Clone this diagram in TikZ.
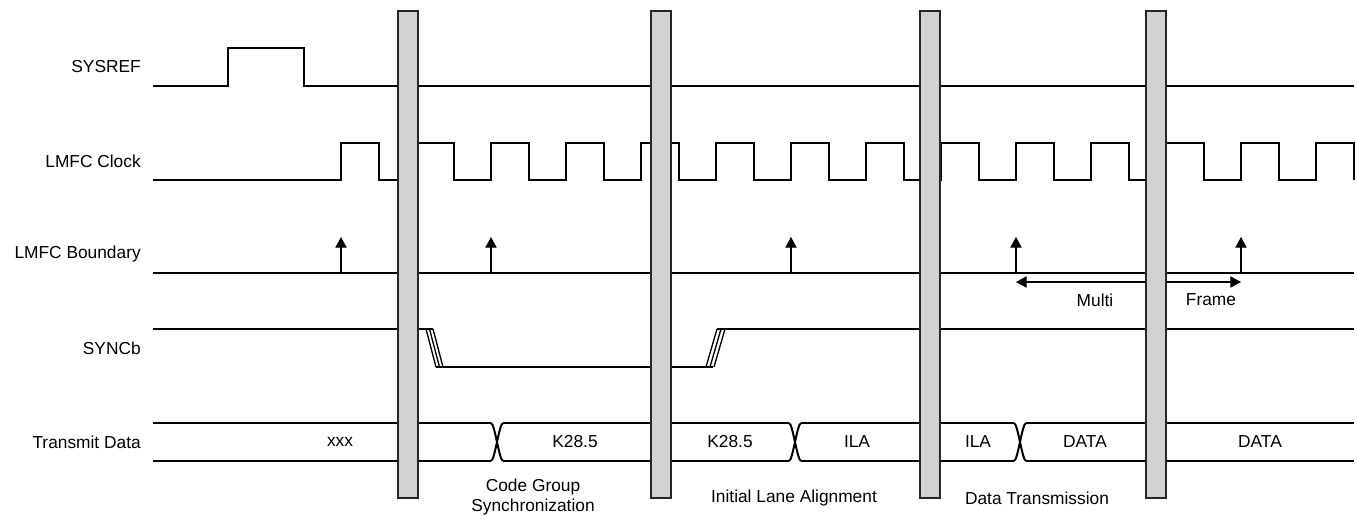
\documentclass[tikz,border=0pt]{standalone}
\usepackage{fontspec}
\setmainfont{Liberation Sans}
\usetikzlibrary{arrows.meta}

\begin{document}
\begin{tikzpicture}[
    x=0.75pt, y=-0.75pt,
    every node/.style={font=\fontsize{13}{14.5}\selectfont, inner sep=0pt},
    sig/.style={line width=1.5pt},
    slant/.style={line width=1pt},
    mark up/.style={line width=0.8pt, -{Triangle[width=8.5pt,length=8pt]}},
    span/.style={line width=0.8pt, {Triangle[width=8.5pt,length=8pt]}-{Triangle[width=8.5pt,length=8pt]}},
    bar/.style={fill=black!18, draw=black!85, line width=0.8pt}
]

\useasboundingbox (0,0) rectangle (1357,516);

% =========================================================
% Row labels
% =========================================================

\node[anchor=east] (lblSysref) at (141,67)  {SYSREF};
\node[anchor=east] (lblClock)  at (141,161) {LMFC Clock};
\node[anchor=east] (lblBound)  at (141,254) {LMFC Boundary};
\node[anchor=east] (lblSync)   at (141,348) {SYNCb};
\node[anchor=east] (lblData)   at (141,442) {Transmit Data};


% =========================================================
% SYSREF
% =========================================================

\draw[sig] (153,86) -- (228,86) -- (228,48) -- (304,48) -- (304,86) -- (1354,86);


% =========================================================
% LMFC Clock
% =========================================================

\draw[sig] (153,180) foreach \k in {0,...,13}{
    -- ({341+75*\k},180) -- ({341+75*\k},143)
    -- ({379+75*\k},143) -- ({379+75*\k},180) };


% =========================================================
% LMFC Boundary
% =========================================================

\draw[sig] (153,273) -- (1354,273);
\foreach \x in {341,491,791,1016,1241}
    \draw[mark up] (\x,273) -- (\x,237);

\coordinate (mfA) at (1016,282);
\coordinate (mfB) at (1241,282);
\draw[span] (mfA) -- (mfB);
\node (lblMulti) at (1095,300) {Multi};
\node (lblFrame) at (1211,300) {Frame};


% =========================================================
% SYNCb
% =========================================================

\draw[sig] (153,329) -- (433,329);
\foreach \d in {0,3.5,7}
    \draw[slant] ({426+\d},329) -- ({436+\d},367);
\draw[sig] (436,367) -- (713,367);
\foreach \d in {0,4,8}
    \draw[slant] ({706+\d},367) -- ({717+\d},329);
\draw[sig] (717,329) -- (1354,329);


% =========================================================
% Transmit Data
% =========================================================

\draw[sig] (153,423) -- (491,423) (503,423) -- (789,423)
           (801,423) -- (1014,423) (1026,423) -- (1354,423);
\draw[sig] (153,461) -- (491,461) (503,461) -- (789,461)
           (801,461) -- (1014,461) (1026,461) -- (1354,461);
\foreach \c in {497,795,1020}{
    \draw[sig] ({\c-6},423) .. controls ({\c-2},424) and ({\c+2},460) .. ({\c+6},461);
    \draw[sig] ({\c-6},461) .. controls ({\c-2},460) and ({\c+2},424) .. ({\c+6},423);
}

\node (dXxx)  at (340,442)  {xxx};
\node (dK1)   at (575,442)  {K28.5};
\node (dK2)   at (730,442)  {K28.5};
\node (dIla1) at (857,442)  {ILA};
\node (dIla2) at (978,442)  {ILA};
\node (dDat1) at (1085,442) {DATA};
\node (dDat2) at (1260,442) {DATA};


% =========================================================
% Phase separators
% =========================================================

\foreach \x in {398,651,920,1146}
    \draw[bar] (\x,11) rectangle ({\x+20},498);


% =========================================================
% Phase names
% =========================================================

\node[align=center] (phCgs) at (533,497) {Code Group\\Synchronization};
\node (phIla) at (794,498)  {Initial Lane Alignment};
\node (phDat) at (1037,498) {Data Transmission};

\end{tikzpicture}
\end{document}
